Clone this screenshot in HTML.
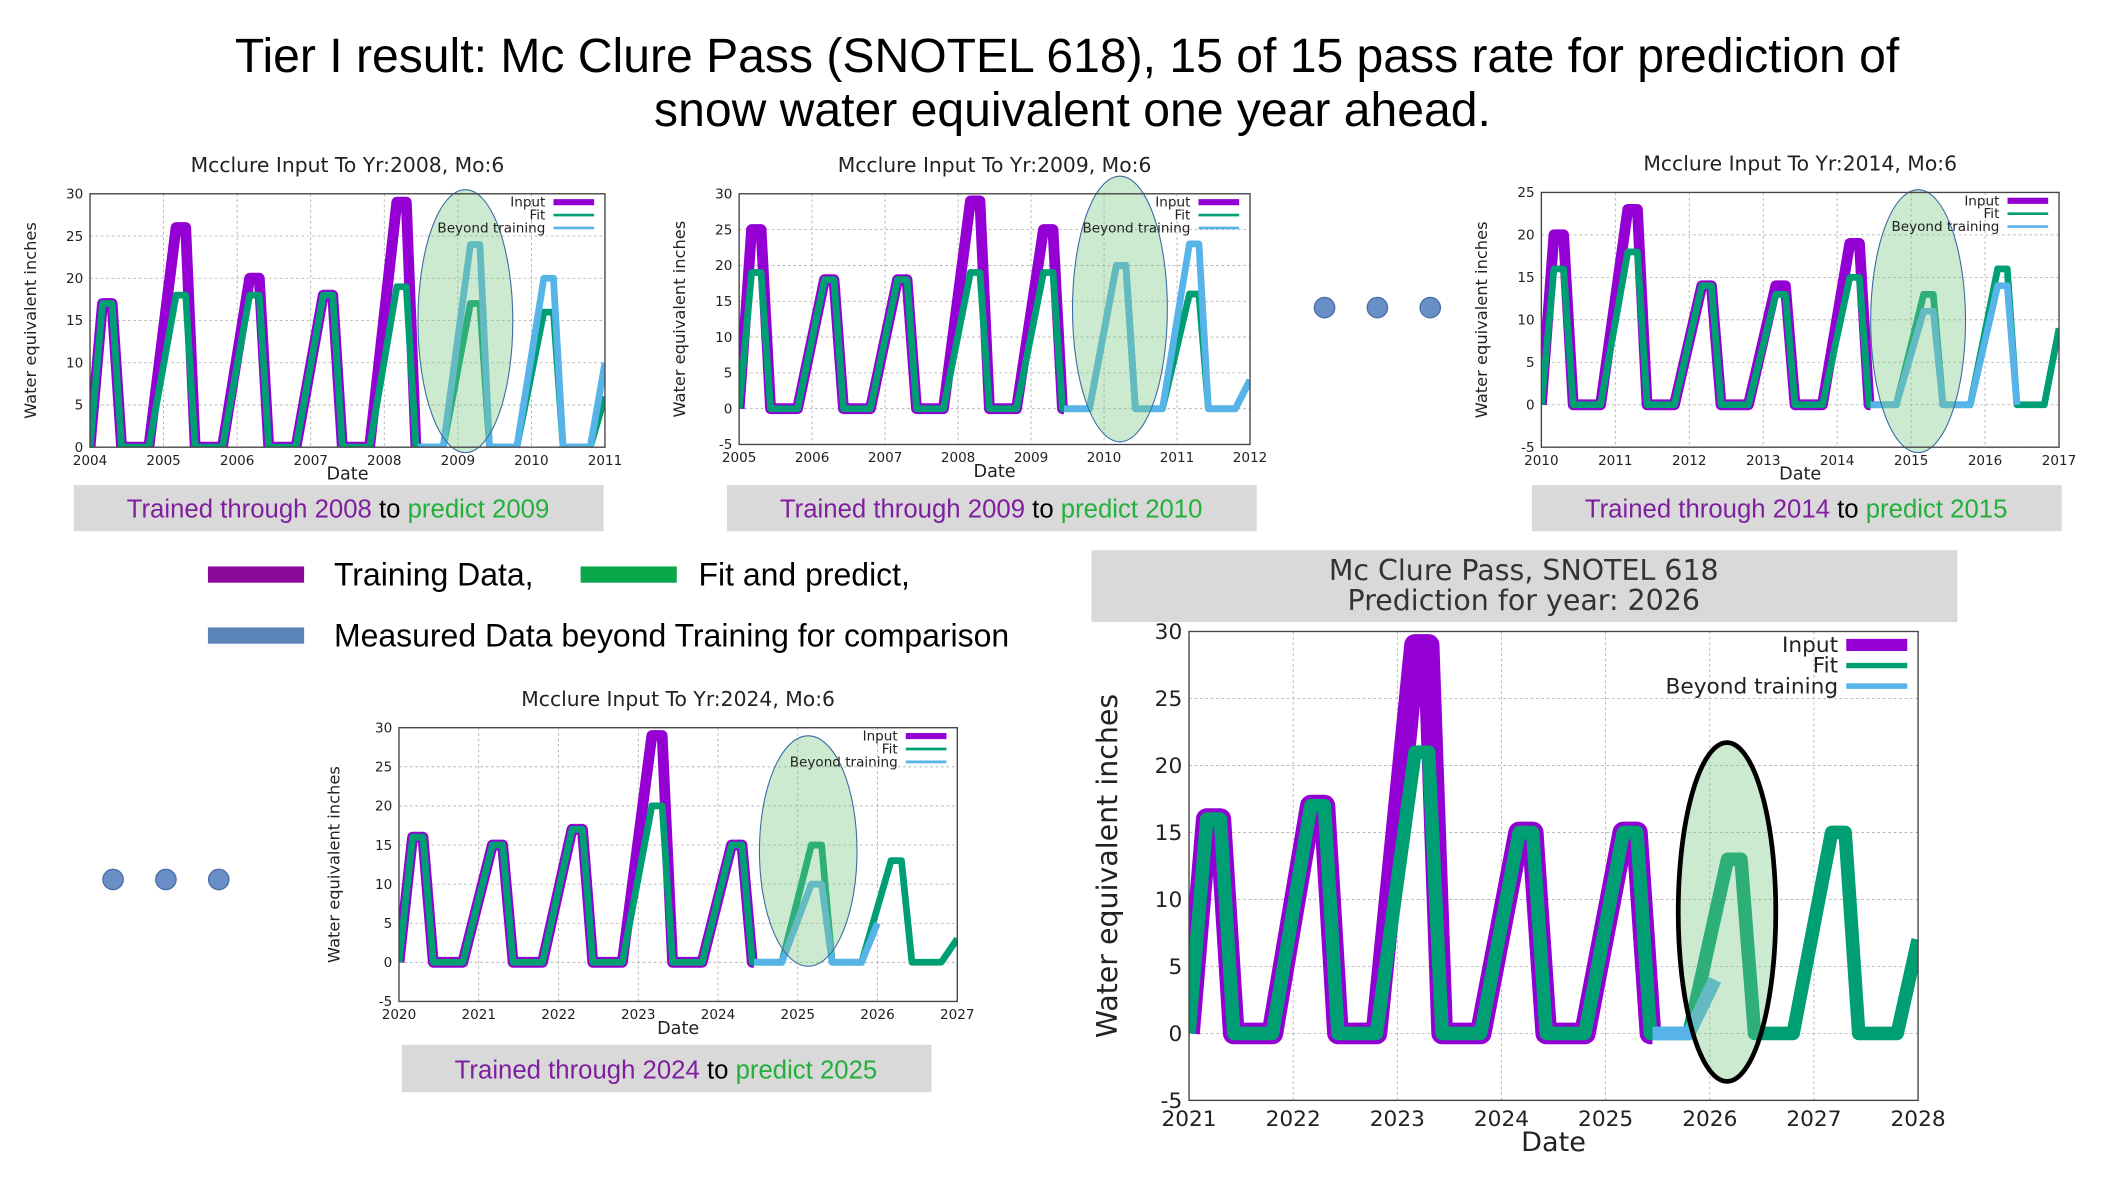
<!DOCTYPE html>
<html><head><meta charset="utf-8"><style>
html,body{margin:0;padding:0;background:#fff;}
svg{display:block;font-family:"Liberation Sans","DejaVu Sans",sans-serif;}
</style></head><body>
<svg id="s" width="2126" height="1202" viewBox="0 0 1568 887" xmlns="http://www.w3.org/2000/svg">
<text x="787" y="53" font-size="35.5" text-anchor="middle">Tier I result: Mc Clure Pass (SNOTEL 618), 15 of 15 pass rate for prediction of</text>
<text x="791" y="93" font-size="35.5" text-anchor="middle">snow water equivalent one year ahead.</text>

<g><rect x="54" y="358" width="391" height="34" fill="#d9d9d9"/><text x="249" y="382" font-size="19" text-anchor="middle"><tspan fill="#7f1f9f">Trained through 2008</tspan> to <tspan fill="#22b03a">predict 2009</tspan></text></g>
<g><rect x="536" y="358" width="391" height="34" fill="#d9d9d9"/><text x="731" y="382" font-size="19" text-anchor="middle"><tspan fill="#7f1f9f">Trained through 2009</tspan> to <tspan fill="#22b03a">predict 2010</tspan></text></g>
<g><rect x="1130" y="358" width="391" height="34" fill="#d9d9d9"/><text x="1325" y="382" font-size="19" text-anchor="middle"><tspan fill="#7f1f9f">Trained through 2014</tspan> to <tspan fill="#22b03a">predict 2015</tspan></text></g>
<g><rect x="296" y="771" width="391" height="35" fill="#d9d9d9"/><text x="491" y="796" font-size="19" text-anchor="middle"><tspan fill="#7f1f9f">Trained through 2024</tspan> to <tspan fill="#22b03a">predict 2025</tspan></text></g>

<g fill="#6a8fc7" stroke="#4a6fa7" stroke-width="1"><circle cx="977" cy="227" r="7.5"/><circle cx="1016" cy="227" r="7.5"/><circle cx="1055" cy="227" r="7.5"/></g>
<g fill="#6a8fc7" stroke="#4a6fa7" stroke-width="1"><circle cx="83" cy="649" r="7.5"/><circle cx="122" cy="649" r="7.5"/><circle cx="161" cy="649" r="7.5"/></g>

<g font-size="23.6">
<rect x="153" y="418" width="71" height="12" fill="#8b0a9a"/>
<text x="246" y="432">Training Data,</text>
<rect x="428" y="418" width="71" height="12" fill="#0aa84a"/>
<text x="515" y="432">Fit and predict,</text>
<rect x="153" y="463" width="71" height="12" fill="#5b84b8"/>
<text x="246" y="477">Measured Data beyond Training for comparison</text>
</g>

<g><rect x="805" y="406" width="639" height="53" fill="#d9d9d9"/>
<text x="1124" y="428" font-size="21" text-anchor="middle" fill="#333" font-family="DejaVu Sans, sans-serif">Mc Clure Pass, SNOTEL 618</text>
<text x="1124" y="450" font-size="21" text-anchor="middle" fill="#333" font-family="DejaVu Sans, sans-serif">Prediction for year: 2026</text></g>
<g id="charts"></g>
</svg>
<script>
// ---- data: per-year season peaks (inches) ----
const c1Years=[2004,2005,2006,2007,2008,2009,2010,2011];
const c1Input=[17,26,20,18,29];
const c1Fit=[17,18,18,18,19,17,16,6];
const c1Beyond=[null,null,null,null,null,24,20,10];
const c2Years=[2005,2006,2007,2008,2009,2010,2011,2012];
const c2Input=[25,18,18,29,25];
const c2Fit=[19,18,18,19,19,20,16,4];
const c2Beyond=[null,null,null,null,null,20,23,4];
const c3Years=[2010,2011,2012,2013,2014,2015,2016,2017];
const c3Input=[20,23,14,14,19];
const c3Fit=[16,18,14,13,15,13,16,9];
const c3Beyond=[null,null,null,null,null,11,14,null];
const c4Years=[2020,2021,2022,2023,2024,2025,2026,2027];
const c4Input=[16,15,17,29,15];
const c4Fit=[16,15,17,20,15,15,13,3];
const c4Beyond=[null,null,null,null,null,10,5,null];
const c5Years=[2021,2022,2023,2024,2025,2026,2027,2028];
const c5Input=[16,17,29,15,15];
const c5Fit=[16,17,21,15,15,13,15,7];
const c5Beyond=[null,null,null,null,null,4,null,null];
const yTicks1=[0,5,10,15,20,25,30];
const yTicks2=[-5,0,5,10,15,20,25,30];
const yTicks3=[-5,0,5,10,15,20,25];

const NS="http://www.w3.org/2000/svg";
const root=document.getElementById('charts');
function mk(tag,attrs,parent){const e=document.createElementNS(NS,tag);for(const k in attrs)e.setAttribute(k,attrs[k]);(parent||root).appendChild(e);return e;}

function seasonPts(years,peaks,x0,x1,partialLast){
  const pts=[];
  peaks.forEach((p,i)=>{
    if(p===null)return;
    const Y=years[i];
    pts.push([Math.max(Y-0.2,x0),0]);
    if(partialLast&&i===peaks.length-1){pts.push([Y,p]);return;}
    pts.push([Y+0.17,p]);pts.push([Y+0.3,p]);pts.push([Y+0.43,0]);pts.push([Y+0.8,0]);
  });
  return pts;
}

function chart(g,years,input,fit,beyond,yT,trainEnd,beyondEnd){
  const x0=years[0],x1=years[years.length-1];
  const ymin=yT[0],ymax=yT[yT.length-1];
  const sx=v=>g.L+(v-x0)/(x1-x0)*(g.R-g.L);
  const sy=v=>g.B-(v-ymin)/(ymax-ymin)*(g.B-g.T);
  const grp=mk('g',{'font-family':'DejaVu Sans, sans-serif'});
  
  
  const cid='clip'+g.name;
  const cp=mk('clipPath',{id:cid},grp);mk('rect',{x:g.L,y:g.T,width:g.R-g.L,height:g.B-g.T},cp);
  yT.forEach(t=>{const l=mk('line',{x1:g.L,x2:g.R,y1:sy(t),y2:sy(t),stroke:'#aaa','stroke-width':0.6,'stroke-dasharray':'2,2'},grp);
    
    const tx=mk('text',{x:g.L-5,y:sy(t)+g.fs*0.35,'font-size':g.fs,'text-anchor':'end',fill:'#222'},grp);tx.textContent=t;
    });
  years.forEach(t=>{const l=mk('line',{x1:sx(t),x2:sx(t),y1:g.T,y2:g.B,stroke:'#aaa','stroke-width':0.6,'stroke-dasharray':'2,2'},grp);
    
    const tx=mk('text',{x:sx(t),y:g.B+g.fs+3,'font-size':g.fs,'text-anchor':'middle',fill:'#222'},grp);tx.textContent=t;
    });
  const ser=mk('g',{'clip-path':'url(#'+cid+')'},grp);
  const poly=(pts,col,w,name)=>{const p=mk('polyline',{points:pts.map(q=>sx(q[0]).toFixed(1)+','+sy(q[1]).toFixed(1)).join(' '),fill:'none',stroke:col,'stroke-width':w,'stroke-linejoin':'round'},ser);
    };
  let ip=seasonPts(years,input,x0,x1,false).filter(q=>q[0]<=trainEnd+0.001);ip.push([trainEnd,0]);
  poly(ip,'#9400d3',g.w*1.6,'input-series');
  poly(seasonPts(years,fit,x0,x1,true),'#009e73',g.w,'fit-series');
  const bv=beyond.map(v=>v);
  let bp=[[trainEnd,0]].concat(seasonPts(years,bv,x0,x1,false)).filter(q=>q[0]>=trainEnd);
  if(beyondEnd){bp=bp.filter(q=>q[0]<=beyondEnd);}
  const li=bv.length-1;if(bv[li]!==null&&!beyondEnd){bp=bp.filter(q=>q[0]<=years[li]-0.2);bp.push([years[li]-0.2,0],[years[li],bv[li]]);}
  if(beyondEnd){const i=bv.findIndex((v,k)=>v!==null&&years[k]>=beyondEnd-0.5);if(i>=0){bp.push([beyondEnd,bv[i]]);}}
  poly(bp,'#56b4e9',g.w,'beyond-training-series');
  const el=mk('ellipse',{cx:g.ex,cy:g.ey,rx:g.erx,ry:g.ery,fill:'rgba(120,200,130,0.38)',stroke:g.estroke,'stroke-width':g.esw},grp);
  
  mk('rect',{x:g.L,y:g.T,width:g.R-g.L,height:g.B-g.T,fill:'none',stroke:'#444','stroke-width':1},grp);
  const lf=g.lfs, lx=g.R-g.lw-8;
  [['Input','#9400d3',g.w*0.9],['Fit','#009e73',g.w*0.4],['Beyond training','#56b4e9',g.w*0.4]].forEach((e,i)=>{
    const y=g.T+lf*(i+1)*0.95;
    const t=mk('text',{x:lx-6,y:y,'font-size':lf,'text-anchor':'end',fill:'#222'},grp);t.textContent=e[0];
    
    mk('line',{x1:lx,x2:lx+g.lw,y1:y-lf*0.33,y2:y-lf*0.33,stroke:e[1],'stroke-width':e[2]},grp);
  });
  const tt=mk('text',{x:(g.L+g.R)/2,y:g.T-16,'font-size':g.tfs,'text-anchor':'middle',fill:'#222'},grp);
  tt.textContent=g.title||'';
  const xl=mk('text',{x:(g.L+g.R)/2,y:g.B+g.fs*2.2+2,'font-size':g.xfs,'text-anchor':'middle',fill:'#222'},grp);
  xl.textContent='Date';
  const yl=mk('text',{x:g.ylx,y:(g.T+g.B)/2,'font-size':g.yfs,'text-anchor':'middle',fill:'#222',transform:'rotate(-90 '+g.ylx+' '+(g.T+g.B)/2+')'},grp);
  yl.textContent='Water equivalent inches';
}
const small={fs:10,w:5,lfs:10,lw:30,tfs:15,xfs:13,yfs:12,estroke:'#3a6aa0',esw:0.8};
chart(Object.assign({},small,{name:'chart-2009',L:66,R:446,T:143,B:330,ex:343,ey:237,erx:35,ery:97,ylx:26,title:'Mcclure Input To Yr:2008, Mo:6'}),c1Years,c1Input,c1Fit,c1Beyond,yTicks1,2008.45,null);
chart(Object.assign({},small,{name:'chart-2010',L:545,R:922,T:143,B:328,ex:826,ey:228,erx:35,ery:98,ylx:505,title:'Mcclure Input To Yr:2009, Mo:6'}),c2Years,c2Input,c2Fit,c2Beyond,yTicks2,2009.45,null);
chart(Object.assign({},small,{name:'chart-2015',L:1137,R:1519,T:142,B:330,ex:1415,ey:237,erx:35,ery:97,ylx:1097,title:'Mcclure Input To Yr:2014, Mo:6'}),c3Years,c3Input,c3Fit,c3Beyond,yTicks3,2014.45,2016.6);
chart(Object.assign({},small,{name:'chart-2025',L:294,R:706,T:537,B:739,ex:596,ey:628,erx:36,ery:85,ylx:250,title:'Mcclure Input To Yr:2024, Mo:6'}),c4Years,c4Input,c4Fit,c4Beyond,yTicks2,2024.45,2026.0);
chart({name:'chart-2026-prediction',L:877,R:1415,T:466,B:812,ex:1274,ey:673,erx:36,ery:125,ylx:824,title:'',fs:16,w:10,lfs:16,lw:45,tfs:15,xfs:20,yfs:21,estroke:'#000',esw:3.5},c5Years,c5Input,c5Fit,c5Beyond,yTicks2,2025.45,2026.05);
</script>
</body></html>
